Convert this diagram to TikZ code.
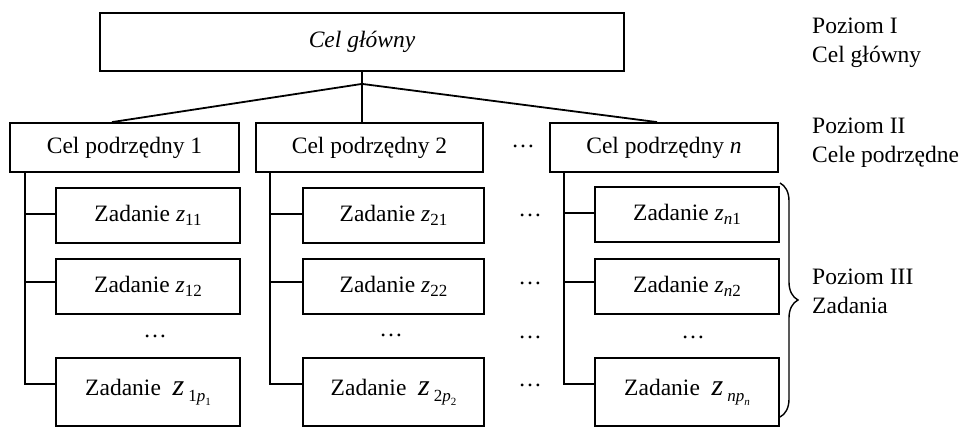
\documentclass[tikz,border=0pt]{standalone}
\usepackage{fontspec}
\setmainfont{Liberation Serif}
\usetikzlibrary{calc,decorations.pathreplacing}
\newcommand\zs[2]{\textit{#1}\raisebox{-0.35ex}{\fontsize{17}{17}\selectfont #2}}
\newcommand\zbig[2]{{\fontsize{30}{30}\selectfont\textit{z}}\,\raisebox{-0.6ex}{\fontsize{17}{17}\selectfont #1\textit{p}\raisebox{-0.45ex}{\fontsize{11}{11}\selectfont #2}}}
\newcommand\zbign{{\fontsize{30}{30}\selectfont\textit{z}}\,\raisebox{-0.6ex}{\fontsize{17}{17}\selectfont\textit{np}\raisebox{-0.45ex}{\fontsize{11}{11}\selectfont\textit{n}}}}
\begin{document}
\begin{tikzpicture}[x=1pt,y=-1pt,
  every node/.style={font=\fontsize{23.5}{29}\selectfont},
  box/.style={draw,line width=1.8pt,inner sep=0pt},
  conn/.style={line width=1.8pt},
  lbl/.style={anchor=west,align=left,inner sep=0pt}]
\useasboundingbox (0,0) rectangle (964,428);
% level I
\node[box,minimum width=524,minimum height=58] (top) at (362,42) {\textit{Cel główny}};
% level II
\node[box,minimum width=229,minimum height=49] (b1) at (124.5,147.5) {Cel podrzędny 1};
\node[box,minimum width=227,minimum height=49] (b2) at (369.5,147.5) {Cel podrzędny 2};
\node[box,minimum width=228,minimum height=49] (bn) at (664,147.5) {Cel podrzędny \textit{n}};
% tasks column 1
\node[box,minimum width=184,minimum height=55] (z11) at (148,215.5) {Zadanie \zs{z}{11}};
\node[box,minimum width=184,minimum height=55] (z12) at (148,286.5) {Zadanie \zs{z}{12}};
\node[box,minimum width=184,minimum height=68] (z1p) at (148,392) {Zadanie\ \ \zbig{1}{1}};
% tasks column 2
\node[box,minimum width=181,minimum height=55] (z21) at (393.5,215.5) {Zadanie \zs{z}{21}};
\node[box,minimum width=181,minimum height=55] (z22) at (393.5,286.5) {Zadanie \zs{z}{22}};
\node[box,minimum width=181,minimum height=68] (z2p) at (393.5,392) {Zadanie\ \ \zbig{2}{2}};
% tasks column n
\node[box,minimum width=184,minimum height=55] (zn1) at (687,214.5) {Zadanie \zs{z}{\textit{n}1}};
\node[box,minimum width=184,minimum height=55] (zn2) at (687,286.5) {Zadanie \zs{z}{\textit{n}2}};
\node[box,minimum width=184,minimum height=68] (znp) at (687,392) {Zadanie\ \ \zbign};
% connectors level I -> II
\coordinate (J) at ($(top.south)+(0,12)$);
\draw[conn] (top.south) -- (J);
\draw[conn] (J) -- ($(b1.north)+(-12.5,0)$);
\draw[conn] (J) -- (J |- b2.north);
\draw[conn] (J) -- ($(bn.north)+(-7,0)$);
% column trunks
\coordinate (t1) at ($(b1.south west)+(16,0)$);
\coordinate (t2) at ($(b2.south west)+(15,0)$);
\coordinate (tn) at ($(bn.south west)+(15,0)$);
\foreach \t/\a/\b/\c in {t1/z11/z12/z1p, t2/z21/z22/z2p, tn/zn1/zn2/znp}{
  \draw[conn] (\t) |- ($(\c.west)+(0,-8)$);
  \draw[conn] ($(\a.west)+(0,-1.5)$) -- (\t |- {$(\a.west)+(0,-1.5)$});
  \draw[conn] ($(\b.west)+(0,-4.5)$) -- (\t |- {$(\b.west)+(0,-4.5)$});
}
% dots
\node (d0) at (523,146) {\dots};
\node (d1) at (530,215) {\dots};
\node (d2) at (530,283) {\dots};
\node (d3) at (530,337) {\dots};
\node (d4) at (530,385) {\dots};
\node (c1) at (155,336) {\dots};
\node (c2) at (391,335) {\dots};
\node (cn) at (693,337) {\dots};
% brace
\coordinate (br1) at (780,183);
\coordinate (br2) at (780,417);
\draw[line width=1.4pt,decorate,decoration={brace,amplitude=18pt}] (br1) -- (br2);
% right labels
\node[lbl] (p1) at (812,43) {Poziom I\\Cel główny};
\node[lbl] (p2) at (812,143) {Poziom II\\Cele podrzędne};
\node[lbl] (p3) at (812,291) {Poziom III\\Zadania};
\end{tikzpicture}
\end{document}
